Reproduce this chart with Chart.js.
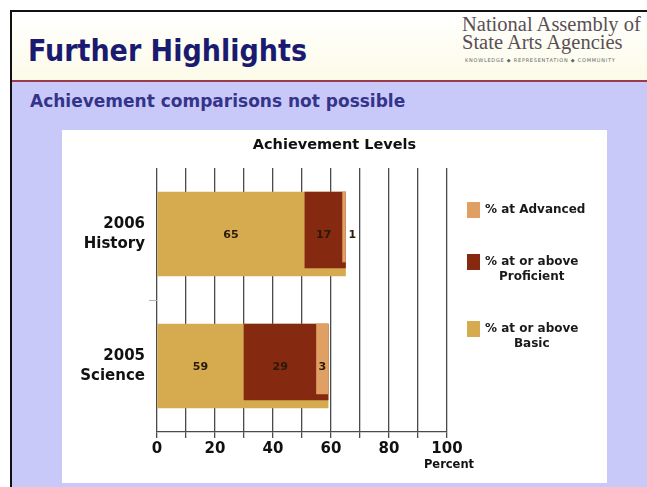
<!DOCTYPE html>
<html>
<head>
<meta charset="utf-8">
<script src="https://cdn.jsdelivr.net/npm/chart.js@4"></script>
<style>
  html, body { margin: 0; padding: 0; background: #ffffff; }
  body { width: 647px; height: 487px; position: relative; overflow: hidden; font-family: "DejaVu Sans", Verdana, sans-serif; }
  #slide { position: absolute; left: 10px; top: 10px; width: 637px; height: 477px; border-left: 2px solid #111; border-top: 2px solid #111; background: #c9c9f9; }
  #header { position: absolute; left: 0; top: 0; width: 100%; height: 68px; background: linear-gradient(#ffffff, #fcfbe8); border-bottom: 2px solid #9c3a4c; }
  #title { position: absolute; left: 16px; top: 22px; font-family: "DejaVu Sans Condensed", "DejaVu Sans", sans-serif; font-weight: bold; font-size: 30px; line-height: 34px; color: #1a1a70; white-space: nowrap; }
  #logo { position: absolute; left: 450px; top: 3px; font-family: "Liberation Serif", "DejaVu Serif", serif; color: #5a4f55; font-size: 20.5px; line-height: 18px; white-space: nowrap; }
  #logo .tiny { font-family: "DejaVu Sans", sans-serif; font-size: 5px; line-height: 8px; letter-spacing: 0.75px; margin-top: 5px; margin-left: 3px; color: #666; }
  #subtitle { position: absolute; left: 18px; top: 78px; font-weight: bold; font-size: 17px; line-height: 22px; color: #34348a; white-space: nowrap; }
  #panel { position: absolute; left: 50px; top: 118px; width: 545px; height: 353px; background: #ffffff; }
</style>
</head>
<body>
<div id="slide">
  <div id="header">
    <div id="title">Further Highlights</div>
    <div id="logo">National Assembly of<br>State Arts Agencies<div class="tiny">KNOWLEDGE &#9670; REPRESENTATION &#9670; COMMUNITY</div></div>
  </div>
  <div id="subtitle">Achievement comparisons not possible</div>
  <div id="panel"><canvas id="levelsChart" width="545" height="353"></canvas></div>
</div>
<script>
const categories = [['2006', 'History'], ['2005', 'Science']];
const seriesNames = ['% at Advanced', '% at or above\nProficient', '% at or above\nBasic'];
// printed values
const advancedValues = [1, 3];
const proficientValues = [17, 29];
const basicValues = [65, 59];
// where each bar runs on the percent scale
const advancedBars = [[64, 65], [55, 59]];
const proficientBars = [[51, 65], [30, 59]];
const basicBars = [[0, 65], [0, 59]];
const chartTitle = 'Achievement Levels';
const axisTitle = 'Percent';

const colors = ['#e0a064', '#852a10', '#d6aa4e'];
const thickness = [70, 76, 84];

const overlay = {
    id: 'overlay',
    // bars share their top edge with the tallest (basic) bar
    afterDatasetsUpdate(chart) {
        const base = chart.getDatasetMeta(2).data;
        [0, 1].forEach(function (d) {
            chart.getDatasetMeta(d).data.forEach(function (el, i) {
                el.y = base[i].y - base[i].height / 2 + el.height / 2;
            });
        });
    },
    afterDraw(chart) {
        const ctx = chart.ctx;
        const x = chart.scales.x;
        const base = chart.getDatasetMeta(2).data;
        ctx.save();
        ctx.fillStyle = '#111';
        ctx.textBaseline = 'middle';

        ctx.font = 'bold 14.5px "DejaVu Sans"';
        ctx.textAlign = 'center';
        ctx.fillText(chartTitle, chart.width / 2, 15);

        ctx.font = 'bold 11.5px "DejaVu Sans"';
        ctx.fillText(axisTitle, x.getPixelForValue(100) + 2, 335);

        // value labels, centred on the visible part of each bar
        ctx.font = 'bold 11px "DejaVu Sans"';
        ctx.fillStyle = '#2a1a08';
        categories.forEach(function (c, i) {
            const y = base[i].y + 1;
            ctx.textAlign = 'center';
            ctx.fillText(basicValues[i], (x.getPixelForValue(basicBars[i][0]) + x.getPixelForValue(proficientBars[i][0])) / 2, y);
            ctx.fillText(proficientValues[i], (x.getPixelForValue(proficientBars[i][0]) + x.getPixelForValue(advancedBars[i][0])) / 2, y);
            const a0 = x.getPixelForValue(advancedBars[i][0]);
            const a1 = x.getPixelForValue(advancedBars[i][1]);
            if (a1 - a0 < 10) {
                ctx.textAlign = 'left';
                ctx.fillText(advancedValues[i], a1 + 3, y);
            } else {
                ctx.fillText(advancedValues[i], (a0 + a1) / 2, y);
            }
        });

        // legend
        ctx.font = 'bold 12px "DejaVu Sans"';
        let top = 72;
        chart.data.datasets.forEach(function (ds) {
            const lines = ds.label.split('\n');
            ctx.fillStyle = ds.backgroundColor;
            ctx.fillRect(405, top, 13, 16);
            const w = Math.max.apply(null, lines.map(function (l) { return ctx.measureText(l).width; }));
            ctx.fillStyle = '#1a1a1a';
            ctx.textAlign = 'center';
            lines.forEach(function (l, k) {
                ctx.fillText(l, 423 + w / 2, top + 8 + k * 15);
            });
            top += 16 + (lines.length - 1) * 15 + 36;
        });
        ctx.restore();
    }
};

const ctx = document.getElementById('levelsChart').getContext('2d');
new Chart(ctx, {
    type: 'bar',
    data: {
        labels: categories,
        datasets: [
            { label: seriesNames[0], data: advancedBars, backgroundColor: colors[0], barThickness: thickness[0] },
            { label: seriesNames[1], data: proficientBars, backgroundColor: colors[1], barThickness: thickness[1] },
            { label: seriesNames[2], data: basicBars, backgroundColor: colors[2], barThickness: thickness[2] }
        ]
    },
    options: {
        indexAxis: 'y',
        responsive: false,
        animation: false,
        events: [],
        layout: { padding: { top: 38, right: 160, left: 0, bottom: 0 } },
        plugins: {
            legend: { display: false },
            title: { display: false },
            tooltip: { enabled: false }
        },
        scales: {
            x: {
                min: 0,
                max: 100,
                afterFit: function (s) { s.height = 51; },
                ticks: {
                    stepSize: 10,
                    autoSkip: false,
                    maxRotation: 0,
                    padding: 2,
                    color: '#111',
                    font: { family: 'DejaVu Sans', weight: 'bold', size: 15 },
                    callback: function (v) { return v % 20 === 0 ? v : ''; }
                },
                grid: { color: '#4a4a4a', lineWidth: 1.3, tickLength: 6 },
                border: { color: '#4a4a4a', width: 1.3 }
            },
            y: {
                grouped: false,
                afterFit: function (s) { s.width = 95; },
                ticks: {
                    padding: 4,
                    color: '#111',
                    font: { family: 'DejaVu Sans', weight: 'bold', size: 15, lineHeight: 1.33 }
                },
                grid: {
                    offset: true,
                    drawOnChartArea: false,
                    tickLength: 8,
                    color: function (c) { return c.index === 1 ? '#b0b0b0' : 'rgba(0,0,0,0)'; }
                },
                border: { display: false }
            }
        },
        datasets: { bar: { grouped: false } }
    },
    plugins: [overlay]
});
</script>
</body>
</html>
